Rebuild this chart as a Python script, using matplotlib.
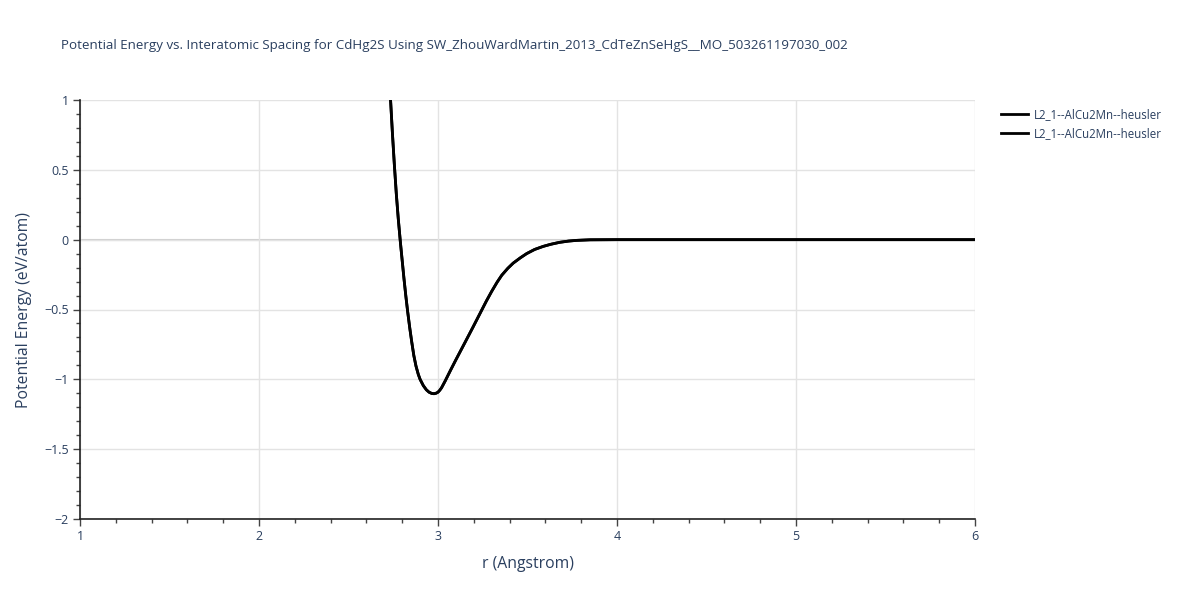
#!/usr/bin/env python
"""Potential energy vs. interatomic spacing for CdHg2S (SW Zhou/Ward/Martin 2013)."""
import matplotlib.pyplot as plt
from matplotlib.ticker import MultipleLocator

TITLE = ("Potential Energy vs. Interatomic Spacing for CdHg2S Using "
         "SW_ZhouWardMartin_2013_CdTeZnSeHgS__MO_503261197030_002")
SERIES_LABELS = ["L2_1--AlCu2Mn--heusler", "L2_1--AlCu2Mn--heusler"]

# values
r_values = [2.735, 2.745, 2.756, 2.767, 2.778, 2.79, 2.80, 2.81, 2.82, 2.83,
            2.842, 2.853, 2.865, 2.877, 2.89, 2.90, 2.918, 2.935, 2.95, 2.965,
            2.978, 2.99, 3.00, 3.01, 3.02, 3.04, 3.07, 3.10, 3.15, 3.194,
            3.238, 3.27, 3.30, 3.33, 3.356, 3.39, 3.42, 3.46, 3.495, 3.54,
            3.588, 3.63, 3.68, 3.73, 3.775, 3.85, 4.0, 4.5, 5.0, 5.5, 6.0]
energy_values = [1.0, 0.77, 0.54, 0.33, 0.15, -0.02, -0.15, -0.28, -0.40, -0.51,
                 -0.63, -0.73, -0.83, -0.905, -0.965, -1.0, -1.045, -1.075, -1.092, -1.101,
                 -1.103, -1.099, -1.092, -1.078, -1.06, -1.012, -0.935, -0.86, -0.738, -0.63,
                 -0.52, -0.44, -0.37, -0.305, -0.255, -0.205, -0.168, -0.13, -0.1, -0.07,
                 -0.048, -0.033, -0.019, -0.01, -0.005, -0.001, 0.0, 0.0, 0.0, 0.0, 0.0]

TEXT = "#2a3f5f"
plt.rcParams["font.family"] = ["Open Sans", "DejaVu Sans"]

fig = plt.figure(figsize=(12, 6), dpi=100)
ax = fig.add_axes([80 / 1200, 81 / 600, 895 / 1200, 419 / 600])

for label in SERIES_LABELS:
    ax.plot(r_values, energy_values, color="black", linewidth=2, label=label,
            solid_joinstyle="round", zorder=3)

ax.set_xlim(1, 6)
ax.set_ylim(-2, 1)
ax.xaxis.set_major_locator(MultipleLocator(1))
ax.xaxis.set_minor_locator(MultipleLocator(0.2))
ax.yaxis.set_major_locator(MultipleLocator(0.5))
ax.yaxis.set_minor_locator(MultipleLocator(0.1))
ax.yaxis.set_major_formatter(plt.FuncFormatter(
    lambda v, _: ("%g" % v).replace("-", "\u2212")))

ax.grid(which="major", color="#e3e3e3", linewidth=1, zorder=0)
ax.axhline(0, color="#cfcfcf", linewidth=1.5, zorder=1)
for side in ("top", "right"):
    ax.spines[side].set_visible(False)
for side in ("left", "bottom"):
    ax.spines[side].set_color("#222222")
    ax.spines[side].set_linewidth(1.2)

ax.tick_params(which="major", direction="out", length=5, width=1,
               color="#444444", labelcolor=TEXT, labelsize=9, pad=3)
ax.tick_params(which="minor", direction="out", length=3, width=1, color="#444444")

ax.set_xlabel("r (Angstrom)", color=TEXT, fontsize=11.3, labelpad=9)
ax.set_ylabel("Potential Energy (eV/atom)", color=TEXT, fontsize=11.3, labelpad=9)
fig.text(61 / 1200, 1 - 45 / 600, TITLE, color=TEXT, fontsize=9.6, va="center")

ax.legend(loc="upper left", bbox_to_anchor=(996 / 1200, 1 - 103 / 600),
          bbox_transform=fig.transFigure, frameon=False, fontsize=8.3,
          labelcolor=TEXT, handlelength=2.4, handletextpad=0.45,
          labelspacing=0.6, borderaxespad=0)

fig.savefig("out.png", dpi=100)
plt.close(fig)
